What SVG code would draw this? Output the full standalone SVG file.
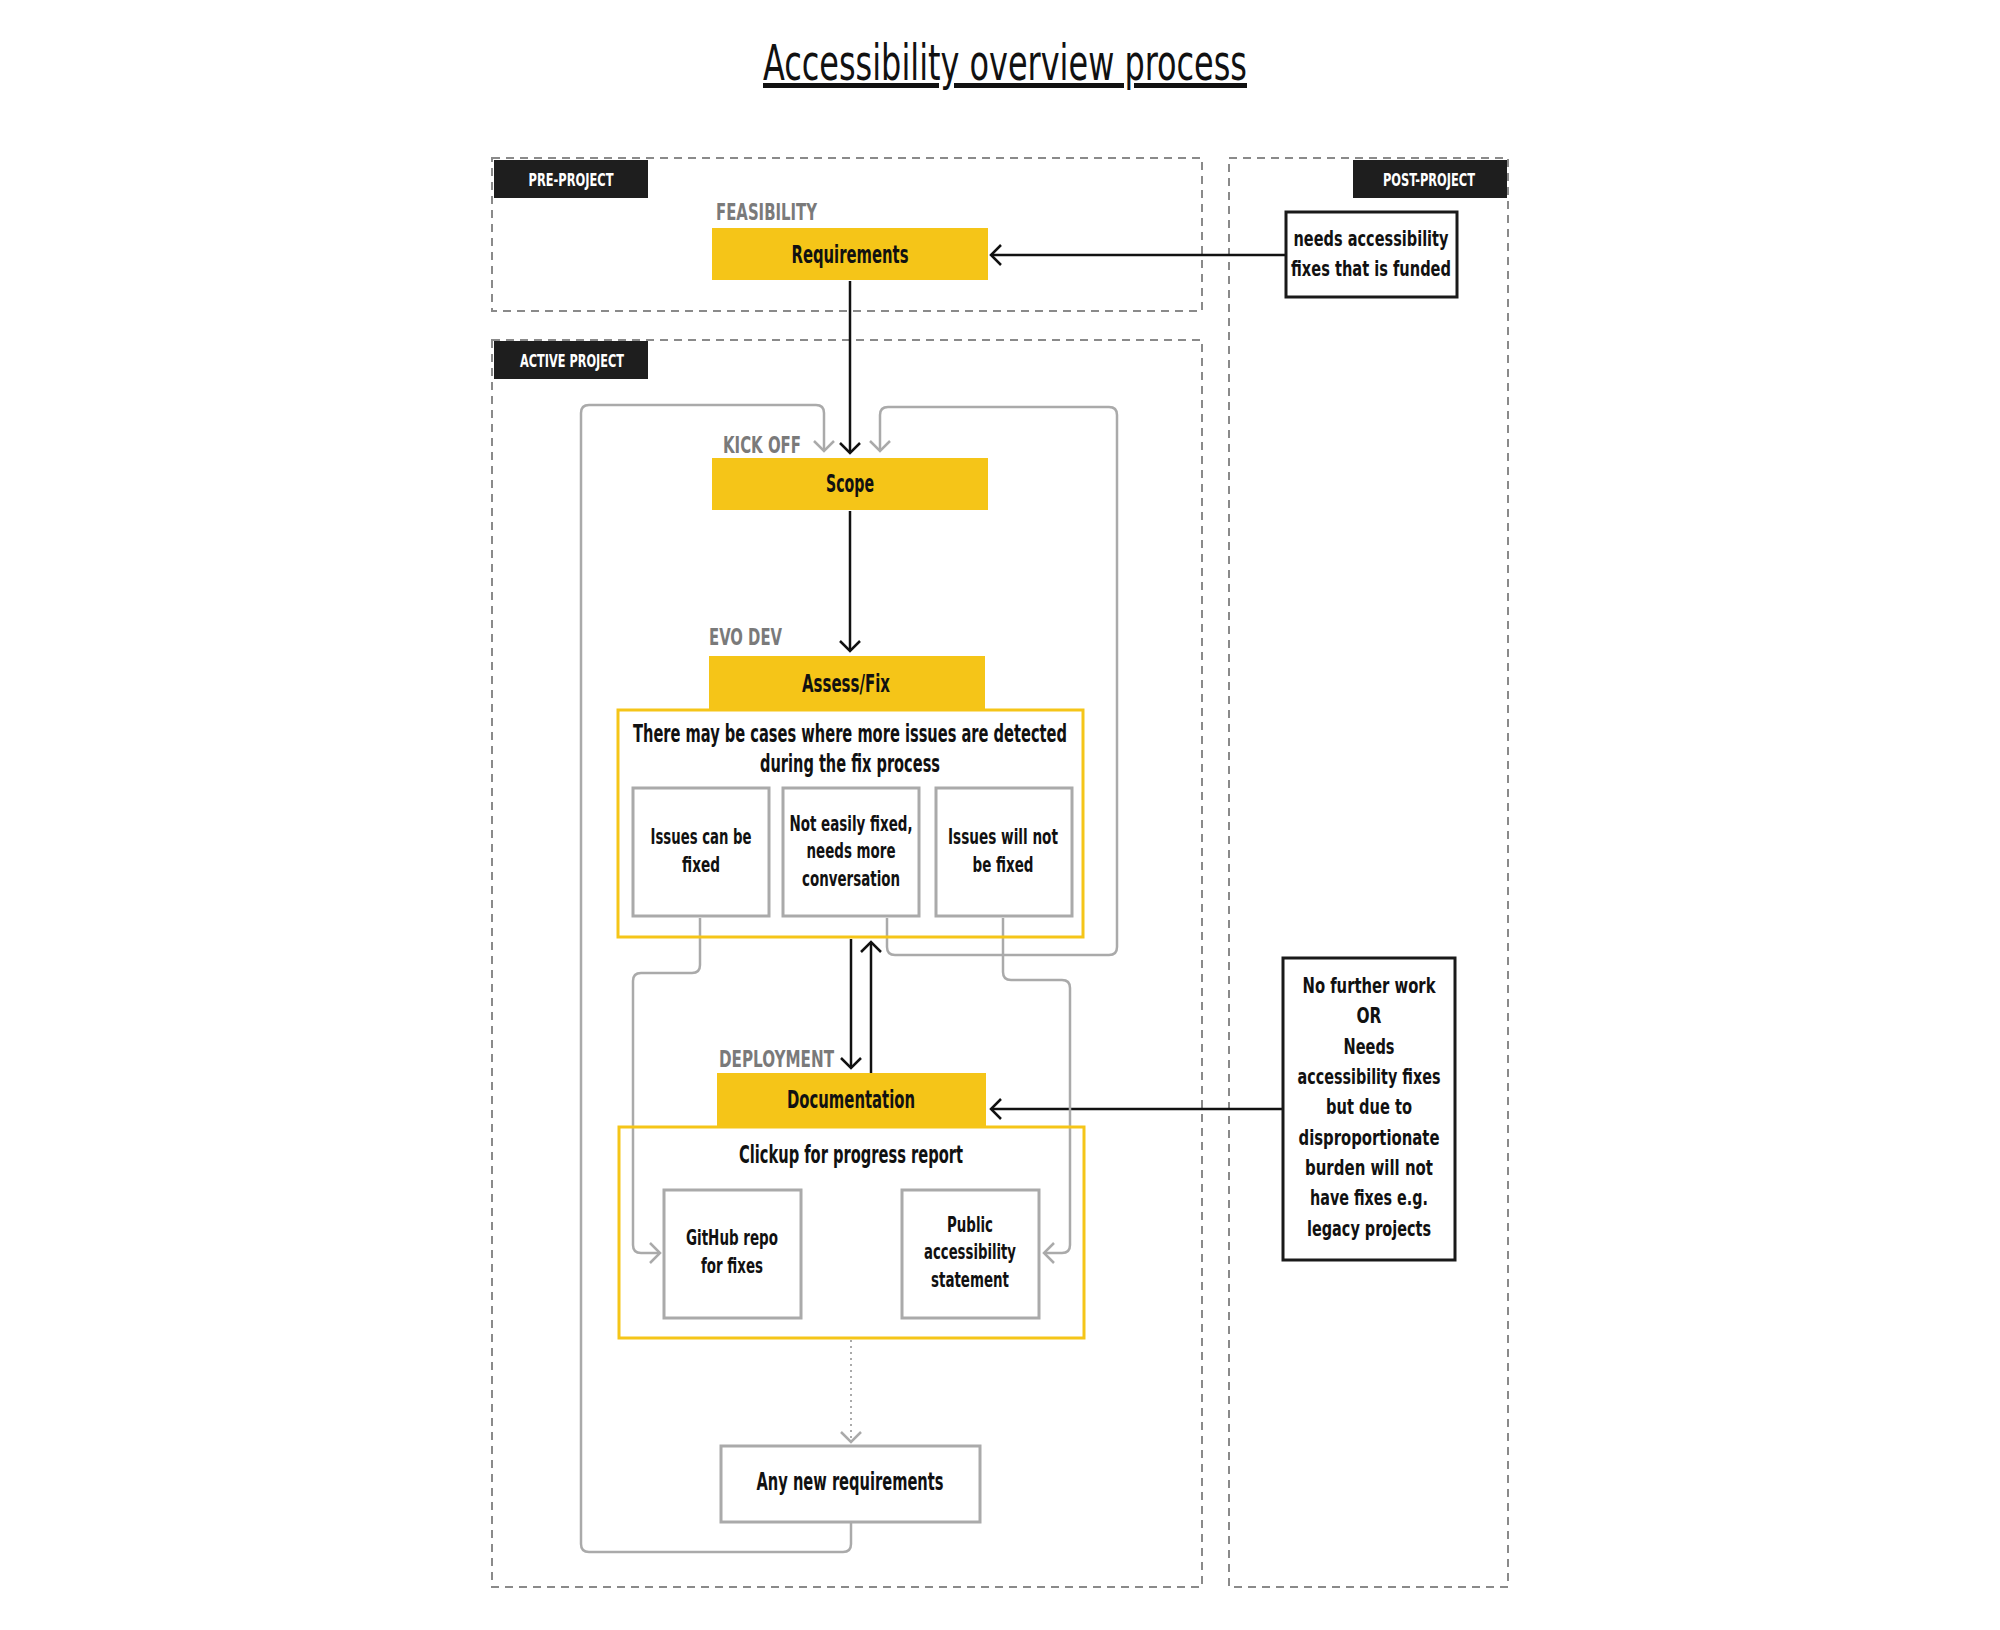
<svg xmlns="http://www.w3.org/2000/svg" width="2000" height="1630" viewBox="0 0 2000 1630">
<defs>
<style>
text{font-family:"Liberation Sans Narrow","DejaVu Sans Condensed","Liberation Sans",sans-serif;font-weight:bold;fill:#111;text-anchor:middle;}
.title{font-weight:normal;font-size:50px;text-decoration:underline;text-decoration-thickness:3px;}
.tag{fill:#fff;font-size:18px;}
.phase{fill:#7a7a7a;font-size:23px;text-anchor:start;}
.big{font-size:24px;}
.t20{font-size:22px;}
.zone{fill:none;stroke:#8a8a8a;stroke-width:2;stroke-dasharray:8 6;}
.tagbg{fill:#1e1e1e;}
.yel{fill:#F5C518;}
.yout{fill:none;stroke:#F5C518;stroke-width:3;}
.gbox{fill:#fff;stroke:#aaaaaa;stroke-width:3;}
.bbox{fill:#fff;stroke:#1a1a1a;stroke-width:3;}
.blk{fill:none;stroke:#111;stroke-width:2.5;}
.gry{fill:none;stroke:#aaaaaa;stroke-width:2.5;stroke-linejoin:round;}
.dot{fill:none;stroke:#aaaaaa;stroke-width:2;stroke-dasharray:2 4;}
</style>
<marker id="ab" viewBox="-12 -12 14 24" markerWidth="14" markerHeight="24" refX="0" refY="0" orient="auto" markerUnits="userSpaceOnUse">
<path d="M-10,-10 L0,0 L-10,10" fill="none" stroke="#111" stroke-width="2.5"/>
</marker>
<marker id="ag" viewBox="-12 -12 14 24" markerWidth="14" markerHeight="24" refX="0" refY="0" orient="auto" markerUnits="userSpaceOnUse">
<path d="M-10,-10 L0,0 L-10,10" fill="none" stroke="#aaaaaa" stroke-width="2.5"/>
</marker>
</defs>
<rect width="2000" height="1630" fill="#fff"/>
<text class="title" x="1005" y="80" textLength="484" lengthAdjust="spacingAndGlyphs">Accessibility overview process</text>

<g id="zones">
<rect class="zone" x="492" y="158" width="710" height="153"/>
<rect class="zone" x="492" y="340" width="710" height="1247"/>
<rect class="zone" x="1229" y="158" width="279" height="1429"/>
<rect class="tagbg" x="494" y="160" width="154" height="38"/>
<text class="tag" x="571" y="186" textLength="85" lengthAdjust="spacingAndGlyphs">PRE-PROJECT</text>
<rect class="tagbg" x="494" y="341" width="154" height="38"/>
<text class="tag" x="572" y="367" textLength="104" lengthAdjust="spacingAndGlyphs">ACTIVE PROJECT</text>
<rect class="tagbg" x="1353" y="160" width="154" height="38"/>
<text class="tag" x="1429" y="186" textLength="92" lengthAdjust="spacingAndGlyphs">POST-PROJECT</text>
</g>

<g id="connectors">
<path class="blk" d="M1286,255 L991,255" marker-end="url(#ab)"/>
<path class="blk" d="M850,281 L850,453" marker-end="url(#ab)"/>
<path class="blk" d="M850,511 L850,651" marker-end="url(#ab)"/>
<path class="blk" d="M851,939 L851,1068" marker-end="url(#ab)"/>
<path class="blk" d="M871,1073 L871,942" marker-end="url(#ab)"/>
<path class="blk" d="M1283,1109 L991,1109" marker-end="url(#ab)"/>
<path class="gry" d="M851,1522 L851,1544 Q851,1552 843,1552 L589,1552 Q581,1552 581,1544 L581,413 Q581,405 589,405 L816,405 Q824,405 824,413 L824,451" marker-end="url(#ag)"/>
<path class="gry" d="M887,918 L887,947 Q887,955 895,955 L1109,955 Q1117,955 1117,947 L1117,415 Q1117,407 1109,407 L888,407 Q880,407 880,415 L880,451" marker-end="url(#ag)"/>
<path class="gry" d="M700,918 L700,965 Q700,973 692,973 L641,973 Q633,973 633,981 L633,1245 Q633,1253 641,1253 L660,1253" marker-end="url(#ag)"/>
<path class="gry" d="M1003,918 L1003,972 Q1003,980 1011,980 L1062,980 Q1070,980 1070,988 L1070,1245 Q1070,1253 1062,1253 L1044,1253" marker-end="url(#ag)"/>
<path class="dot" d="M851,1340 L851,1440"/>
<path d="M841,1432 L851,1442 L861,1432" fill="none" stroke="#aaaaaa" stroke-width="2.5"/>
</g>

<g id="requirements">
<text class="phase" x="716" y="220" textLength="101" lengthAdjust="spacingAndGlyphs">FEASIBILITY</text>
<rect class="yel" x="712" y="228" width="276" height="52"/>
<text class="big" x="850" y="263" textLength="117" lengthAdjust="spacingAndGlyphs">Requirements</text>
</g>

<g id="funded">
<rect class="bbox" x="1286" y="212" width="171" height="85"/>
<text class="t20" x="1371" y="246" textLength="155" lengthAdjust="spacingAndGlyphs">needs accessibility</text>
<text class="t20" x="1371" y="276" textLength="160" lengthAdjust="spacingAndGlyphs">fixes that is funded</text>
</g>

<g id="scope">
<text class="phase" x="723" y="453" textLength="78" lengthAdjust="spacingAndGlyphs">KICK OFF</text>
<rect class="yel" x="712" y="458" width="276" height="52"/>
<text class="big" x="850" y="492" textLength="48" lengthAdjust="spacingAndGlyphs">Scope</text>
</g>

<g id="assess">
<text class="phase" x="709" y="645" textLength="73" lengthAdjust="spacingAndGlyphs">EVO DEV</text>
<rect class="yel" x="709" y="656" width="276" height="53"/>
<text class="big" x="846" y="692" textLength="88" lengthAdjust="spacingAndGlyphs">Assess/Fix</text>
<rect class="yout" x="618" y="710" width="465" height="227"/>
<text class="big" x="850" y="742" textLength="434" lengthAdjust="spacingAndGlyphs">There may be cases where more issues are detected</text>
<text class="big" x="850" y="772" textLength="180" lengthAdjust="spacingAndGlyphs">during the fix process</text>
</g>

<g id="can-fix">
<rect class="gbox" x="633" y="788" width="136" height="128"/>
<text class="t20" x="701" y="844" textLength="101" lengthAdjust="spacingAndGlyphs">Issues can be</text>
<text class="t20" x="701" y="872" textLength="38" lengthAdjust="spacingAndGlyphs">fixed</text>
</g>
<g id="not-easily">
<rect class="gbox" x="783" y="788" width="136" height="128"/>
<text class="t20" x="851" y="831" textLength="123" lengthAdjust="spacingAndGlyphs">Not easily fixed,</text>
<text class="t20" x="851" y="858" textLength="89" lengthAdjust="spacingAndGlyphs">needs more</text>
<text class="t20" x="851" y="886" textLength="98" lengthAdjust="spacingAndGlyphs">conversation</text>
</g>
<g id="will-not">
<rect class="gbox" x="936" y="788" width="136" height="128"/>
<text class="t20" x="1003" y="844" textLength="110" lengthAdjust="spacingAndGlyphs">Issues will not</text>
<text class="t20" x="1003" y="872" textLength="61" lengthAdjust="spacingAndGlyphs">be fixed</text>
</g>

<g id="documentation">
<text class="phase" x="719" y="1067" textLength="115" lengthAdjust="spacingAndGlyphs">DEPLOYMENT</text>
<rect class="yel" x="717" y="1073" width="269" height="53"/>
<text class="big" x="851" y="1108" textLength="128" lengthAdjust="spacingAndGlyphs">Documentation</text>
<rect class="yout" x="619" y="1127" width="465" height="211"/>
<text class="big" x="851" y="1163" textLength="224" lengthAdjust="spacingAndGlyphs">Clickup for progress report</text>
</g>

<g id="github">
<rect class="gbox" x="664" y="1190" width="137" height="128"/>
<text class="t20" x="732" y="1245" textLength="92" lengthAdjust="spacingAndGlyphs">GitHub repo</text>
<text class="t20" x="732" y="1273" textLength="62" lengthAdjust="spacingAndGlyphs">for fixes</text>
</g>
<g id="statement">
<rect class="gbox" x="902" y="1190" width="137" height="128"/>
<text class="t20" x="970" y="1232" textLength="46" lengthAdjust="spacingAndGlyphs">Public</text>
<text class="t20" x="970" y="1259" textLength="92" lengthAdjust="spacingAndGlyphs">accessibility</text>
<text class="t20" x="970" y="1287" textLength="78" lengthAdjust="spacingAndGlyphs">statement</text>
</g>

<g id="new-requirements">
<rect class="gbox" x="721" y="1446" width="259" height="76"/>
<text class="big" x="850" y="1490" textLength="187" lengthAdjust="spacingAndGlyphs">Any new requirements</text>
</g>

<g id="no-further">
<rect class="bbox" x="1283" y="958" width="172" height="302"/>
<text class="t20" x="1369" y="993" textLength="133" lengthAdjust="spacingAndGlyphs">No further work</text>
<text class="t20" x="1369" y="1023" textLength="25" lengthAdjust="spacingAndGlyphs">OR</text>
<text class="t20" x="1369" y="1054" textLength="51" lengthAdjust="spacingAndGlyphs">Needs</text>
<text class="t20" x="1369" y="1084" textLength="143" lengthAdjust="spacingAndGlyphs">accessibility fixes</text>
<text class="t20" x="1369" y="1114" textLength="86" lengthAdjust="spacingAndGlyphs">but due to</text>
<text class="t20" x="1369" y="1145" textLength="141" lengthAdjust="spacingAndGlyphs">disproportionate</text>
<text class="t20" x="1369" y="1175" textLength="128" lengthAdjust="spacingAndGlyphs">burden will not</text>
<text class="t20" x="1369" y="1205" textLength="118" lengthAdjust="spacingAndGlyphs">have fixes e.g.</text>
<text class="t20" x="1369" y="1236" textLength="124" lengthAdjust="spacingAndGlyphs">legacy projects</text>
</g>
</svg>
